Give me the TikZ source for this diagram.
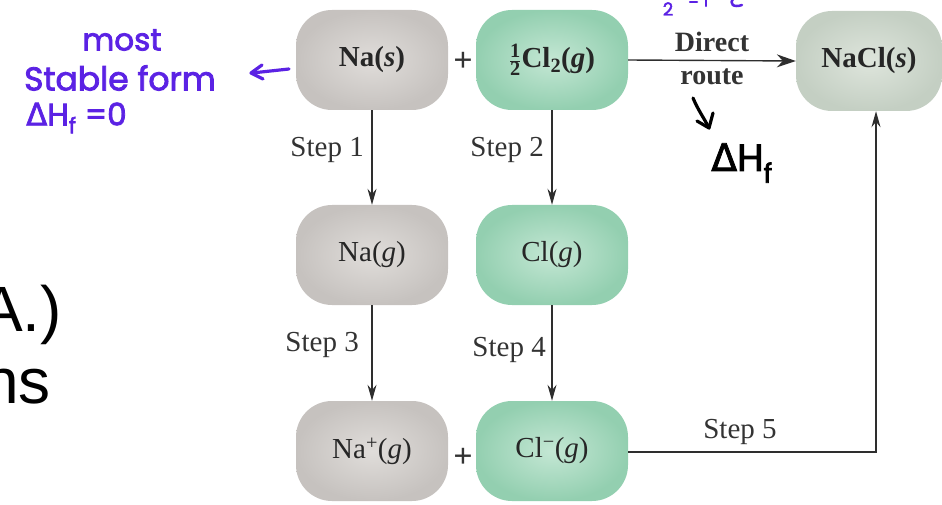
\documentclass[tikz,border=0pt]{standalone}
\usepackage{amsmath}
\usepackage{fontspec}
\setmainfont{Liberation Serif}
\newfontfamily\slidefont{Liberation Sans}
\newfontfamily\hand{Poppins}[FakeBold=2.5,AutoFakeBold=2.5]
\newfontfamily\handgreek{DejaVu Sans}[FakeBold=2,AutoFakeBold=2]
\usetikzlibrary{arrows.meta}

\definecolor{inkblue}{HTML}{5B22E4}
\definecolor{grayin}{HTML}{E0DDDA}
\definecolor{grayout}{HTML}{C6C2BF}
\definecolor{greenin}{HTML}{C4E7D4}
\definecolor{greenout}{HTML}{93CFB0}
\definecolor{saltin}{HTML}{DEE5DC}
\definecolor{saltout}{HTML}{C4CFC3}
\definecolor{linegray}{HTML}{2E2E2E}

\begin{document}
\begin{tikzpicture}[x=1pt,y=-1pt,
  species/.style={rounded corners=36pt, minimum width=152pt, minimum height=100pt,
    inner sep=0pt, text=black!85, font=\fontsize{29}{31}\selectfont},
  grayspecies/.style={species, inner color=grayin, outer color=grayout},
  greenspecies/.style={species, inner color=greenin, outer color=greenout},
  saltspecies/.style={species, minimum width=146pt, inner color=saltin, outer color=saltout},
  steplabel/.style={text=black!80, font=\fontsize{29}{31}\selectfont, inner sep=0pt},
  plus/.style={font=\bfseries\fontsize{34}{34}\selectfont, text=black!80},
  routelabel/.style={font=\bfseries\fontsize{28}{30}\selectfont, text=black!80},
  flow/.style={draw=linegray, line width=1.4pt},
  steparrow/.style={flow, -{Stealth[length=16pt,width=9pt]}},
  handblue/.style={text=inkblue, font=\hand\fontsize{31}{31}\selectfont, inner sep=0pt},
  handstroke/.style={line width=3.2pt, line cap=round, line join=round}
]
\useasboundingbox (0,0) rectangle (942,505);

% species boxes
\node[grayspecies]  (nas)   at (372,60)  {\textbf{Na(\textit{s})}};
\node[greenspecies] (cl2)   at (552,60)  {\textbf{$\tfrac{\textbf{1}}{\textbf{2}}$Cl\textsubscript{2}(\textit{g})}};
\node[saltspecies]  (nacl)  at (869,61)  {\textbf{NaCl(\textit{s})}};
\node[grayspecies]  (nag)   at (372,255) {Na(\textit{g})};
\node[greenspecies] (clg)   at (552,255) {Cl(\textit{g})};
\node[grayspecies]  (naion) at (372,451) {Na\textsuperscript{+}(\textit{g})};
\node[greenspecies] (clion) at (552,451) {Cl\textsuperscript{−}(\textit{g})};

\node[plus] (plustop) at (463,62)  {+};
\node[plus] (plusbot) at (463,458) {+};

% direct route
\draw[flow, -{Stealth[length=19pt,width=13pt]}] (cl2.east) -- (nacl.west)
  node[midway, above=5pt, routelabel] (direct) {Direct}
  node[midway, below=4pt, routelabel] (route) {route};

% stepwise route
\draw[steparrow] (nas.south) -- (nag.north);
\draw[steparrow] (cl2.south) -- (clg.north);
\draw[steparrow] (nag.south) -- (naion.north);
\draw[steparrow] (clg.south) -- (clion.north);
\coordinate (corner) at (876,452);
\draw[steparrow] (clion.east |- corner) -- (corner) -- (corner |- nacl.south);

\node[steplabel, anchor=east] (s1) at (364,150) {Step 1};
\node[steplabel, anchor=east] (s2) at (544,150) {Step 2};
\node[steplabel, anchor=east] (s3) at (359,345) {Step 3};
\node[steplabel, anchor=east] (s4) at (546,350) {Step 4};
\node[steplabel] (s5) at (740,432) {Step 5};

% slide text at the left margin
\node[anchor=base east, inner sep=0pt, font=\slidefont\fontsize{64}{64}\selectfont] (slideA) at (62,331) {A.)};
\node[anchor=base east, inner sep=0pt, font=\slidefont\fontsize{64}{64}\selectfont] (slidens) at (51,403) {ns};

% pen annotations
\node[handblue] (most)   at (122,40) {most};
\node[handblue, font=\hand\fontsize{33}{33}\selectfont] (stable) at (120,78) {Stable form};
\node[handblue, anchor=west] (dhf0) at (26,118) {{\handgreek Δ}H\textsubscript{f} =0};
\draw[handstroke, draw=inkblue] (289,69) -- (252,73);
\draw[handstroke, draw=inkblue] (262,65) -- (251,73) -- (263,79);
\node[handblue, font=\hand\fontsize{18}{18}\selectfont] (toptwo) at (668,9) {2};
\draw[handstroke, draw=inkblue, line width=2.5pt] (690,2) -- (697,2);
\draw[handstroke, draw=inkblue, line width=2.5pt] (706,-2) -- (706,6);
\draw[handstroke, draw=inkblue, line width=2.5pt] (734,-2) .. controls (728,4) and (734,8) .. (742,5);

\draw[handstroke, draw=black] (693,98) .. controls (698,110) and (704,118) .. (709,128);
\draw[handstroke, draw=black] (697,121) -- (709,128) -- (713,113);
\node[text=black, font=\hand\fontsize{38}{38}\selectfont, inner sep=0pt] (dhf) at (742,163) {{\handgreek Δ}H\textsubscript{f}};
\end{tikzpicture}
\end{document}
